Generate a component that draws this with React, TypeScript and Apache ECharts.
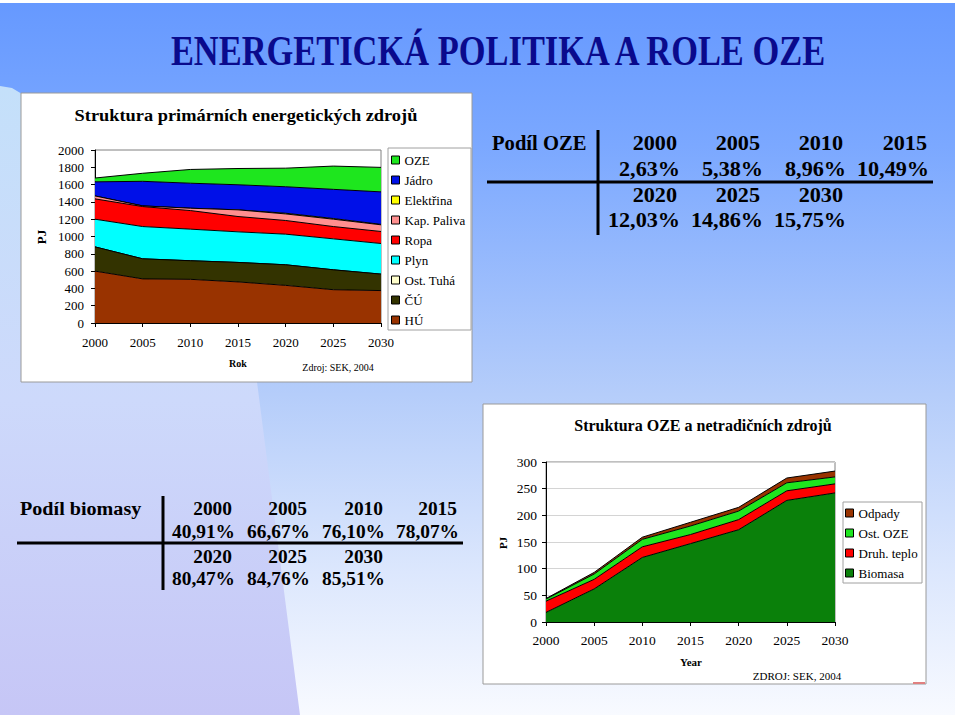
import React, { useEffect, useRef } from 'react';
import * as echarts from 'echarts';

// ---------- DATA ----------
const years = ['2000', '2005', '2010', '2015', '2020', '2025', '2030'];

// Struktura primárních energetických zdrojů (PJ), stacked bottom -> top
const primaryNames = ['HÚ', 'ČÚ', 'Ost. Tuhá', 'Plyn', 'Ropa', 'Kap. Paliva', 'Elektřina', 'Jádro', 'OZE'];
const huValues = [600, 510, 505, 475, 435, 385, 375];
const cuValues = [280, 232, 215, 225, 238, 230, 190];
const ostTuhaValues = [0, 0, 0, 0, 0, 0, 0];
const plynValues = [320, 373, 365, 354, 354, 358, 354];
const ropaValues = [235, 231, 215, 177, 158, 142, 139];
const kapPalivaValues = [34, 8, 27, 77, 76, 85, 77];
const elektrinaValues = [0, 0, 0, 0, 8, 8, 5];
const jadroValues = [163, 284, 289, 290, 306, 337, 376];
const ozeValues = [44, 93, 159, 188, 215, 269, 283];
const primaryData = [huValues, cuValues, ostTuhaValues, plynValues, ropaValues, kapPalivaValues, elektrinaValues, jadroValues, ozeValues];
const primaryLegendOrder = ['OZE', 'Jádro', 'Elektřina', 'Kap. Paliva', 'Ropa', 'Plyn', 'Ost. Tuhá', 'ČÚ', 'HÚ'];

// Struktura OZE a netradičních zdrojů (PJ)
const ozeNames = ['Biomasa', 'Druh. teplo', 'Ost. OZE', 'Odpady'];
const biomasaValues = [18, 62, 121, 147, 173, 228, 242];
const druhTeploValues = [21, 18, 20, 17, 19, 18, 17];
const ostOzeValues = [4, 10, 14, 16, 16, 15, 13];
const odpadyValues = [1, 3, 4, 7, 7, 9, 11];
const ozeData = [biomasaValues, druhTeploValues, ostOzeValues, odpadyValues];
const ozeLegendOrder = ['Odpady', 'Ost. OZE', 'Druh. teplo', 'Biomasa'];

// Tables
const ozeShares = ['2,63%', '5,38%', '8,96%', '10,49%', '12,03%', '14,86%', '15,75%'];
const biomassShares = ['40,91%', '66,67%', '76,10%', '78,07%', '80,47%', '84,76%', '85,51%'];

const primaryTicks = [0, 200, 400, 600, 800, 1000, 1200, 1400, 1600, 1800, 2000];
const ozeTicks = [0, 50, 100, 150, 200, 250, 300];

// ---------- STYLES ----------
const FONT = 'Liberation Serif';
const primaryColors: Record<string, string> = {
  'HÚ': '#993300', 'ČÚ': '#333300', 'Ost. Tuhá': '#ffffcc', 'Plyn': '#00ffff', 'Ropa': '#ff0000',
  'Kap. Paliva': '#ff8f8f', 'Elektřina': '#ffff00', 'Jádro': '#0010e8', 'OZE': '#1ee61e',
};
const ozeColors: Record<string, string> = {
  'Biomasa': '#0a800a', 'Druh. teplo': '#ff0000', 'Ost. OZE': '#1ee61e', 'Odpady': '#993300',
};

function buildOption() {
  const series: any[] = [];
  primaryNames.forEach((name, i) => {
    series.push({
      name, type: 'line', stack: 'primary', xAxisIndex: 0, yAxisIndex: 0,
      data: primaryData[i], symbol: 'none', showSymbol: false, silent: true,
      z: 30 - i,
      lineStyle: { color: '#000', width: 1 },
      itemStyle: { color: primaryColors[name] },
      areaStyle: { color: primaryColors[name], opacity: 1 },
      emphasis: { disabled: true },
    });
  });
  ozeNames.forEach((name, i) => {
    series.push({
      name, type: 'line', stack: 'oze', xAxisIndex: 1, yAxisIndex: 1,
      data: ozeData[i], symbol: 'none', showSymbol: false, silent: true,
      z: 30 - i,
      lineStyle: { color: '#000', width: 1 },
      itemStyle: { color: ozeColors[name] },
      areaStyle: { color: ozeColors[name], opacity: 1 },
      emphasis: { disabled: true },
    });
  });

  const g: any[] = [];
  g.push({ type: 'rect', z: -100, silent: true, shape: { x: 0, y: 0, width: 960, height: 720 }, style: { fill: '#ffffff' } });
  g.push({
    type: 'rect', z: -99, silent: true, shape: { x: 0, y: 3, width: 955, height: 712 },
    style: {
      fill: new echarts.graphic.LinearGradient(0, 0, 0, 1, [
        { offset: 0, color: '#6699ff' }, { offset: 0.2, color: '#7ba8ff' },
        { offset: 0.55, color: '#b5cdfa' }, { offset: 0.8, color: '#dce7fd' }, { offset: 1, color: '#f8faff' },
      ]),
    },
  });
  g.push({
    type: 'polygon', z: -98, silent: true,
    shape: { points: [[0, 86], [12, 88], [22, 94], [250, 100], [257, 382], [300, 715], [0, 715]] },
    style: {
      fill: new echarts.graphic.LinearGradient(0, 0, 0, 1, [
        { offset: 0, color: '#c4e0fa' }, { offset: 0.5, color: '#cdd9fb' }, { offset: 1, color: '#c6c6f6' },
      ]),
    },
  });
  g.push({
    type: 'text', z: 10, x: 498, y: 51, scaleX: 0.82,
    style: { text: 'ENERGETICKÁ POLITIKA A ROLE OZE', fontFamily: FONT, fontWeight: 'bold', fontSize: 42, fill: '#0a0a8c', textAlign: 'center', textVerticalAlign: 'middle' },
  });

  // chart 1 box
  g.push({ type: 'rect', z: -50, silent: true, shape: { x: 21, y: 93, width: 451, height: 289 }, style: { fill: '#ffffff', stroke: '#9a9a9a', lineWidth: 1 } });
  g.push({ type: 'rect', z: -49, silent: true, shape: { x: 388, y: 148, width: 83, height: 182 }, style: { fill: '#ffffff', stroke: '#a0a0a0', lineWidth: 1 } });
  g.push({
    type: 'text', z: 10, x: 246, y: 115, scaleX: 1.08,
    style: { text: 'Struktura primárních energetických zdrojů', fontFamily: FONT, fontWeight: 'bold', fontSize: 17, fill: '#000', textAlign: 'center', textVerticalAlign: 'middle' },
  });
  g.push({ type: 'text', z: 10, x: 41, y: 237, rotation: Math.PI / 2, style: { text: 'PJ', fontFamily: FONT, fontWeight: 'bold', fontSize: 13, fill: '#000', textAlign: 'center', textVerticalAlign: 'middle' } });
  g.push({ type: 'text', z: 10, x: 238, y: 363, style: { text: 'Rok', fontFamily: FONT, fontWeight: 'bold', fontSize: 10, fill: '#000', textAlign: 'center', textVerticalAlign: 'middle' } });
  g.push({ type: 'text', z: 10, x: 338, y: 367, style: { text: 'Zdroj: SEK, 2004', fontFamily: FONT, fontSize: 10, fill: '#000', textAlign: 'center', textVerticalAlign: 'middle' } });

  // chart 2 box
  g.push({ type: 'rect', z: -50, silent: true, shape: { x: 483, y: 404, width: 443, height: 280 }, style: { fill: '#ffffff', stroke: '#9a9a9a', lineWidth: 1 } });
  g.push({ type: 'rect', z: -49, silent: true, shape: { x: 843, y: 502, width: 79, height: 81 }, style: { fill: '#ffffff', stroke: '#a0a0a0', lineWidth: 1 } });
  g.push({
    type: 'text', z: 10, x: 703, y: 425,
    style: { text: 'Struktura OZE a netradičních zdrojů', fontFamily: FONT, fontWeight: 'bold', fontSize: 16, fill: '#000', textAlign: 'center', textVerticalAlign: 'middle' },
  });
  g.push({ type: 'text', z: 10, x: 503, y: 543, rotation: Math.PI / 2, style: { text: 'PJ', fontFamily: FONT, fontWeight: 'bold', fontSize: 11, fill: '#000', textAlign: 'center', textVerticalAlign: 'middle' } });
  g.push({ type: 'text', z: 10, x: 691, y: 662, style: { text: 'Year', fontFamily: FONT, fontWeight: 'bold', fontSize: 11, fill: '#000', textAlign: 'center', textVerticalAlign: 'middle' } });
  g.push({ type: 'text', z: 10, x: 797, y: 676, style: { text: 'ZDROJ: SEK, 2004', fontFamily: FONT, fontSize: 11, fill: '#000', textAlign: 'center', textVerticalAlign: 'middle' } });

  // tables
  const addTable = (label: string, shares: string[], labelX: number, rowsY: number[], yearRight: number[], pctRight: number[], hLine: number[], vLine: number[], fontSize: number, numScale: number, labelScale: number) => {
    g.push({ type: 'text', z: 10, x: labelX, y: rowsY[0], scaleX: labelScale, style: { text: label, fontFamily: FONT, fontWeight: 'bold', fontSize, fill: '#000', textAlign: 'left', textVerticalAlign: 'middle' } });
    years.forEach((yr, i) => {
      const col = i % 4;
      const block = i < 4 ? 0 : 2;
      g.push({ type: 'text', z: 10, x: yearRight[col], y: rowsY[block], scaleX: numScale, style: { text: yr, fontFamily: FONT, fontWeight: 'bold', fontSize, fill: '#000', textAlign: 'right', textVerticalAlign: 'middle' } });
      g.push({ type: 'text', z: 10, x: pctRight[col], y: rowsY[block + 1], scaleX: numScale, style: { text: shares[i], fontFamily: FONT, fontWeight: 'bold', fontSize, fill: '#000', textAlign: 'right', textVerticalAlign: 'middle' } });
    });
    g.push({ type: 'line', z: 10, shape: { x1: hLine[0], y1: hLine[1], x2: hLine[2], y2: hLine[1] }, style: { stroke: '#000', lineWidth: 3 } });
    g.push({ type: 'line', z: 10, shape: { x1: vLine[0], y1: vLine[1], x2: vLine[0], y2: vLine[2] }, style: { stroke: '#000', lineWidth: 3 } });
  };
  addTable('Podíl OZE', ozeShares, 492, [143, 169, 195, 220], [677, 760, 843, 927], [680, 763, 846, 929], [487, 182, 933], [598, 130, 235], 20, 1.11, 1.03);
  addTable('Podíl biomasy', biomassShares, 20, [509, 532, 557, 579], [232, 307, 383, 457], [235, 310, 385, 459], [17, 543, 463], [163, 496, 590], 19, 1.02, 1.06);

  g.push({ type: 'rect', z: -40, silent: true, shape: { x: 913, y: 682, width: 12, height: 2 }, style: { fill: '#e08080' } });

  const axisLabel = (size: number, margin: number) => ({
    color: '#000', fontFamily: FONT, fontSize: size, margin,
    formatter: (v: any) => String(v),
  });

  return {
    animation: false,
    backgroundColor: 'transparent',
    textStyle: { fontFamily: FONT, color: '#000' },
    graphic: { elements: g },
    grid: [
      { left: 95, top: 150, width: 286, height: 173, show: true, borderColor: '#808080', borderWidth: 1, backgroundColor: 'transparent', containLabel: false },
      { left: 546, top: 462, width: 289, height: 160, show: true, borderColor: '#808080', borderWidth: 1, backgroundColor: 'transparent', containLabel: false },
    ],
    xAxis: [
      {
        gridIndex: 0, type: 'category', data: years, boundaryGap: false,
        axisLine: { show: true, lineStyle: { color: '#000', width: 1 } },
        axisTick: { show: true, length: 4, lineStyle: { color: '#000' } },
        axisLabel: { ...axisLabel(13, 13), interval: 0 }, splitLine: { show: false },
      },
      {
        gridIndex: 1, type: 'category', data: years, boundaryGap: false,
        axisLine: { show: true, lineStyle: { color: '#000', width: 1 } },
        axisTick: { show: true, length: 4, lineStyle: { color: '#000' } },
        axisLabel: { ...axisLabel(13.5, 11), interval: 0 }, splitLine: { show: false },
      },
    ],
    yAxis: [
      {
        gridIndex: 0, type: 'value', min: primaryTicks[0], max: primaryTicks[primaryTicks.length - 1], interval: 200,
        axisLine: { show: true, lineStyle: { color: '#000', width: 1 } },
        axisTick: { show: true, length: 4, lineStyle: { color: '#000' } },
        axisLabel: axisLabel(13, 11), splitLine: { show: false },
      },
      {
        gridIndex: 1, type: 'value', min: ozeTicks[0], max: ozeTicks[ozeTicks.length - 1], interval: 50,
        axisLine: { show: true, lineStyle: { color: '#000', width: 1 } },
        axisTick: { show: true, length: 4, lineStyle: { color: '#000' } },
        axisLabel: axisLabel(13.5, 9), splitLine: { show: true, lineStyle: { color: '#d4d4d4', width: 1 } },
      },
    ],
    legend: [
      {
        orient: 'vertical', left: 391, top: 153, padding: 0, itemWidth: 8, itemHeight: 8, itemGap: 6, icon: 'rect',
        selectedMode: false,
        textStyle: { fontFamily: FONT, fontSize: 13, lineHeight: 14, color: '#000' },
        data: primaryLegendOrder.map((n) => ({ name: n, itemStyle: { color: primaryColors[n], borderColor: '#000', borderWidth: 1 } })),
      },
      {
        orient: 'vertical', left: 845, top: 506, padding: 0, itemWidth: 8, itemHeight: 8, itemGap: 6, icon: 'rect',
        selectedMode: false,
        textStyle: { fontFamily: FONT, fontSize: 13, lineHeight: 14, color: '#000' },
        data: ozeLegendOrder.map((n) => ({ name: n, itemStyle: { color: ozeColors[n], borderColor: '#000', borderWidth: 1 } })),
      },
    ],
    series,
  };
}

export default function App() {
  const ref = useRef<HTMLDivElement>(null);
  useEffect(() => {
    document.body.style.margin = '0';
    const chart = echarts.init(ref.current as HTMLDivElement, null, { renderer: 'svg', width: 960, height: 720 });
    chart.setOption(buildOption() as any);
    return () => chart.dispose();
  }, []);
  return <div ref={ref} style={{ width: 960, height: 720, position: 'absolute', left: 0, top: 0 }} />;
}
